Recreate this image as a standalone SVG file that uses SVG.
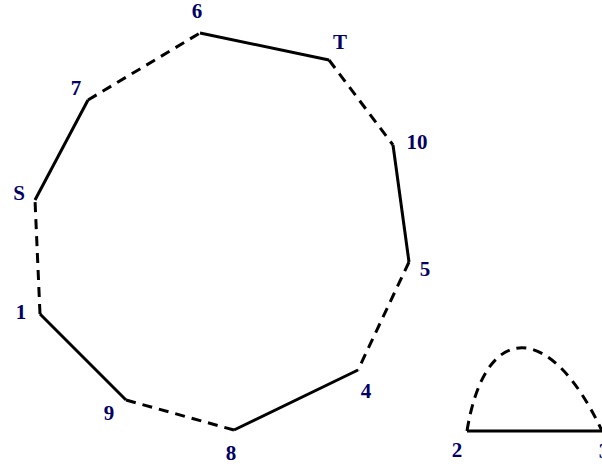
<svg xmlns="http://www.w3.org/2000/svg" width="602" height="468" viewBox="0 0 602 468">
<style>
.e{stroke:#000;stroke-width:3;fill:none;stroke-linejoin:miter}
.d{stroke-dasharray:10,7}
.l{font-family:"Liberation Serif",serif;font-weight:bold;font-size:21px;fill:#000066;text-anchor:middle}
</style>
<rect width="602" height="468" fill="#fff"/>
<g id="connectors">
<line class="e" x1="200" y1="33" x2="329" y2="60"/>
<line class="e d" x1="329" y1="60" x2="393" y2="145"/>
<line class="e" x1="393" y1="145" x2="409" y2="262"/>
<line class="e d" x1="409" y1="262" x2="358" y2="370"/>
<line class="e" x1="358" y1="370" x2="234" y2="430"/>
<line class="e d" x1="234" y1="430" x2="126" y2="400"/>
<line class="e" x1="126" y1="400" x2="40" y2="314"/>
<line class="e d" x1="40" y1="314" x2="35" y2="200"/>
<line class="e" x1="35" y1="200" x2="88" y2="100"/>
<line class="e d" x1="88" y1="100" x2="200" y2="33"/>
<line class="e" x1="467" y1="431" x2="602" y2="431"/>
<path class="e d" d="M467,431 C485,320 550,320 602,431"/>
</g>
<g id="n6"><text class="l" x="197" y="18">6</text></g>
<g id="nT"><text class="l" x="340" y="49">T</text></g>
<g id="n10"><text class="l" x="417" y="149">10</text></g>
<g id="n5"><text class="l" x="425" y="276">5</text></g>
<g id="n4"><text class="l" x="366" y="398">4</text></g>
<g id="n8"><text class="l" x="231" y="460">8</text></g>
<g id="n9"><text class="l" x="109" y="420">9</text></g>
<g id="n1"><text class="l" x="21" y="319">1</text></g>
<g id="nS"><text class="l" x="19" y="200">S</text></g>
<g id="n7"><text class="l" x="76" y="95">7</text></g>
<g id="n2"><text class="l" x="457" y="457">2</text></g>
<g id="n3"><text class="l" x="604" y="458">3</text></g>
</svg>
